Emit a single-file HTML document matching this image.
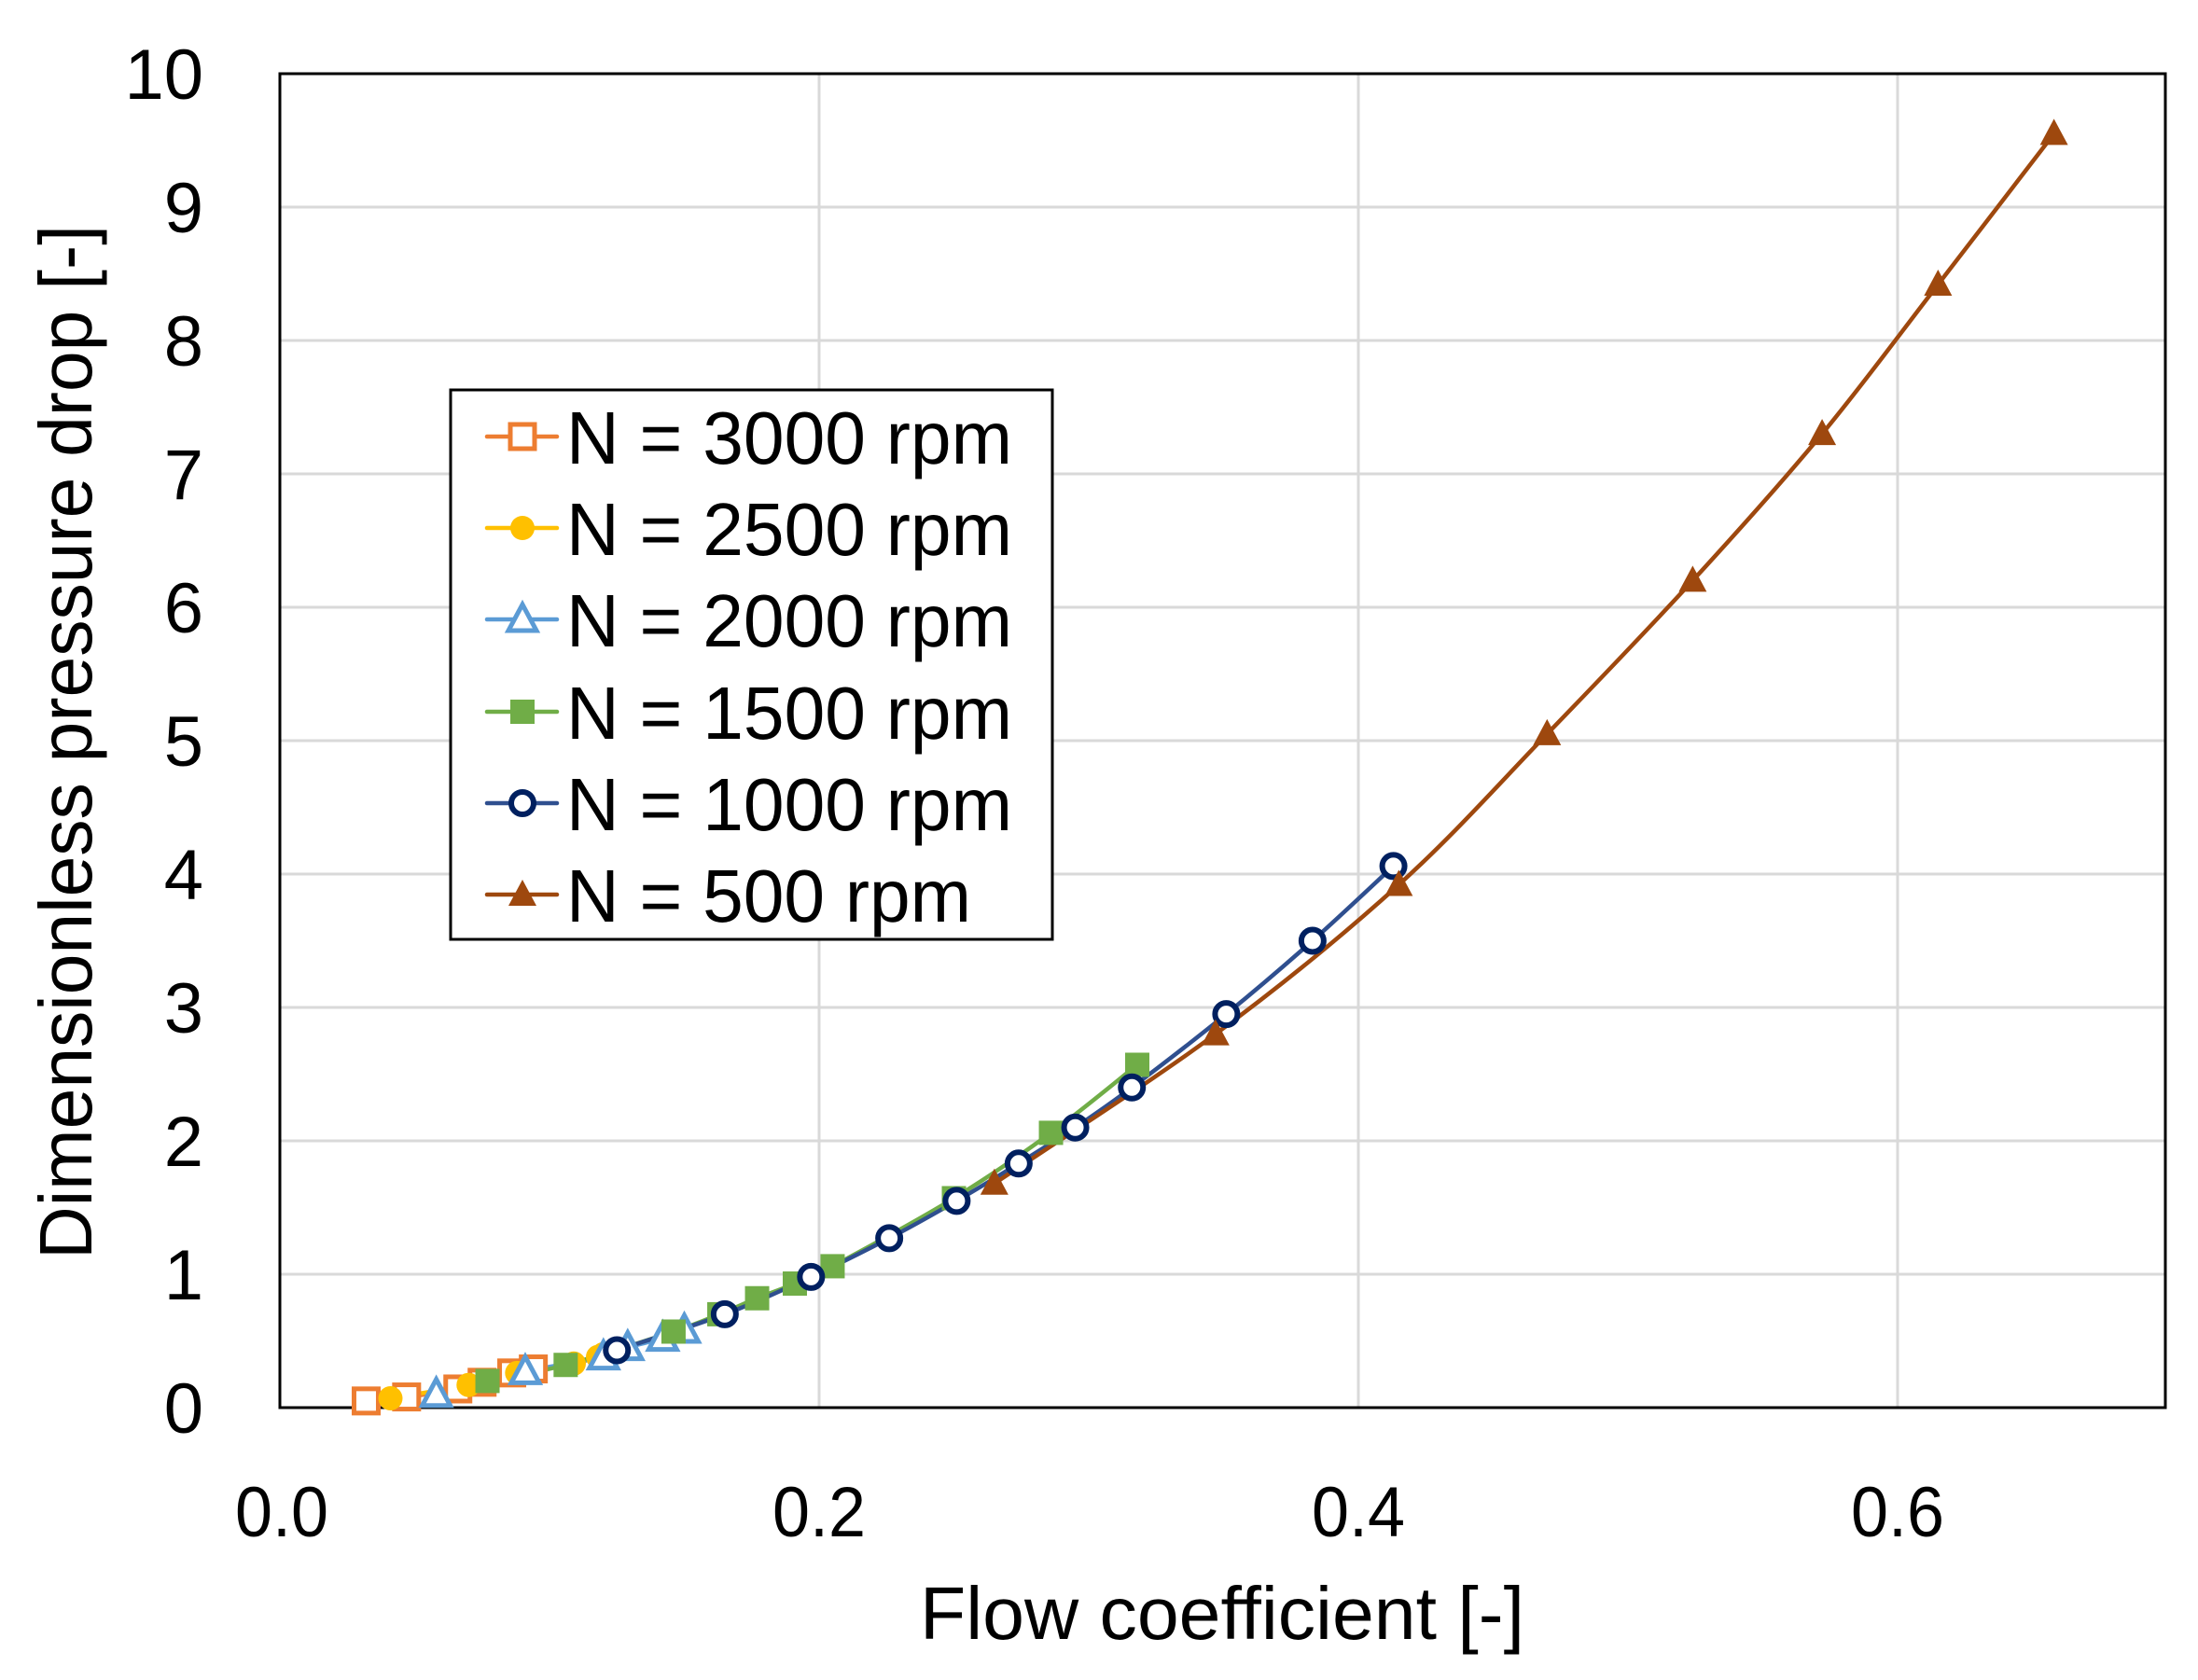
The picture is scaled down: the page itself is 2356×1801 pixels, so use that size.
<!DOCTYPE html>
<html><head><meta charset="utf-8"><style>
html,body{margin:0;padding:0;background:#fff;}
svg{display:block;}
text{font-family:"Liberation Sans",sans-serif;fill:#000;}
</style></head><body>
<svg id="c" width="2356" height="1801" viewBox="0 0 2356 1801" xmlns="http://www.w3.org/2000/svg">
<rect width="2356" height="1801" fill="#fff"/>
<g stroke="#d9d9d9" stroke-width="3">
<line x1="300" y1="222" x2="2321" y2="222"/><line x1="300" y1="365" x2="2321" y2="365"/>
<line x1="300" y1="508" x2="2321" y2="508"/><line x1="300" y1="651" x2="2321" y2="651"/>
<line x1="300" y1="794" x2="2321" y2="794"/><line x1="300" y1="937" x2="2321" y2="937"/>
<line x1="300" y1="1080" x2="2321" y2="1080"/><line x1="300" y1="1223" x2="2321" y2="1223"/>
<line x1="300" y1="1366" x2="2321" y2="1366"/>
<line x1="878" y1="79" x2="878" y2="1509"/><line x1="1456" y1="79" x2="1456" y2="1509"/><line x1="2034" y1="79" x2="2034" y2="1509"/>
</g>
<rect x="300" y="79" width="2021" height="1430" fill="none" stroke="#000" stroke-width="3"/>
<g id="data"></g>
<g font-size="76" text-anchor="end">
<text x="218" y="106">10</text><text x="218" y="249">9</text><text x="218" y="392">8</text>
<text x="218" y="535">7</text><text x="218" y="678">6</text><text x="218" y="821">5</text>
<text x="218" y="964">4</text><text x="218" y="1107">3</text><text x="218" y="1250">2</text>
<text x="218" y="1393">1</text><text x="218" y="1536">0</text>
</g>
<g font-size="76" text-anchor="middle">
<text x="302" y="1647" textLength="100" lengthAdjust="spacingAndGlyphs">0.0</text>
<text x="878" y="1647" textLength="100" lengthAdjust="spacingAndGlyphs">0.2</text>
<text x="1456" y="1647" textLength="100" lengthAdjust="spacingAndGlyphs">0.4</text>
<text x="2034" y="1647" textLength="100" lengthAdjust="spacingAndGlyphs">0.6</text>
</g>
<text x="986" y="1757" font-size="80" textLength="648" lengthAdjust="spacingAndGlyphs">Flow coefficient [-]</text>
<text transform="translate(98,1350) rotate(-90)" font-size="80" textLength="1109" lengthAdjust="spacingAndGlyphs">Dimensionless pressure drop [-]</text>
<rect x="483" y="418" width="645" height="589" fill="#fff" stroke="#000" stroke-width="3"/>
<g id="leg"></g>
<g font-size="80">
<text x="607" y="497" textLength="478" lengthAdjust="spacingAndGlyphs">N = 3000 rpm</text>
<text x="607" y="595" textLength="478" lengthAdjust="spacingAndGlyphs">N = 2500 rpm</text>
<text x="607" y="693" textLength="478" lengthAdjust="spacingAndGlyphs">N = 2000 rpm</text>
<text x="607" y="792" textLength="478" lengthAdjust="spacingAndGlyphs">N = 1500 rpm</text>
<text x="607" y="890" textLength="478" lengthAdjust="spacingAndGlyphs">N = 1000 rpm</text>
<text x="607" y="988" textLength="434" lengthAdjust="spacingAndGlyphs">N = 500 rpm</text>
</g>
</svg>
<script>
var NS="http://www.w3.org/2000/svg";
function X(v){return 300+v*2890;} function Y(v){return 1509-v*143;}
var S=[
{c:"#ED7D31",m:"sq",f:false,d:[[0.032,0.05],[0.047,0.08],[0.066,0.14],[0.075,0.19],[0.086,0.26],[0.094,0.29]]},
{c:"#FFC000",m:"ci",f:true,d:[[0.041,0.07],[0.07,0.17],[0.088,0.26],[0.109,0.33],[0.118,0.38],[0.12,0.4]]},
{c:"#5B9BD5",m:"tr",f:false,d:[[0.058,0.1],[0.091,0.27],[0.12,0.38],[0.129,0.45],[0.142,0.52],[0.15,0.58]]},
{c:"#70AD47",m:"sq",f:true,d:[[0.077,0.2],[0.106,0.32],[0.146,0.57],[0.163,0.7],[0.177,0.82],[0.191,0.93],[0.205,1.06],[0.25,1.57],[0.286,2.06],[0.318,2.57]]},
{c:"#002060",lc:"#2F4F8F",m:"ci",f:false,d:[[0.125,0.43],[0.165,0.7],[0.197,0.98],[0.226,1.27],[0.251,1.55],[0.274,1.83],[0.295,2.1],[0.316,2.4],[0.351,2.95],[0.383,3.5],[0.413,4.06]]},
{c:"#9E480E",m:"tr",f:true,d:[[0.265,1.68],[0.347,2.8],[0.415,3.92],[0.47,5.05],[0.524,6.2],[0.572,7.3],[0.615,8.42],[0.658,9.55]]}
];
function el(n,a,p){var e=document.createElementNS(NS,n);for(var k in a)e.setAttribute(k,a[k]);p.appendChild(e);return e;}
function marker(g,s,x,y){
 var fill=s.f?s.c:"#fff";
 if(s.m=="sq")el("rect",{x:x-13,y:y-13,width:26,height:26,fill:fill,stroke:s.c,"stroke-width":s.f?0:5},g);
 else if(s.m=="ci")el("circle",{cx:x,cy:y,r:s.f?13:12,fill:fill,stroke:s.c,"stroke-width":s.f?0:6},g);
 else el("polygon",{points:(x)+","+(y-16)+" "+(x-15)+","+(y+12)+" "+(x+15)+","+(y+12),fill:fill,stroke:s.c,"stroke-width":s.f?0:5,"stroke-linejoin":"miter"},g);
}
var g=document.getElementById("data"),L=document.getElementById("leg");
S.forEach(function(s){
 var p=s.d.map(function(q){return [X(q[0]),Y(q[1])];});
 var d="M"+p[0][0]+","+p[0][1];
 for(var i=0;i<p.length-1;i++){
  var p0=p[i-1]||p[i],p1=p[i],p2=p[i+1],p3=p[i+2]||p2;
  d+=" C"+(p1[0]+(p2[0]-p0[0])/6)+","+(p1[1]+(p2[1]-p0[1])/6)+" "+(p2[0]-(p3[0]-p1[0])/6)+","+(p2[1]-(p3[1]-p1[1])/6)+" "+p2[0]+","+p2[1];
 }
 el("path",{d:d,fill:"none",stroke:s.lc||s.c,"stroke-width":4.5},g);
});
S.forEach(function(s){s.d.forEach(function(q){marker(g,s,X(q[0]),Y(q[1]));});});
var ly=[468,566,664,763,861,959];
S.forEach(function(s,i){
 el("line",{x1:522,y1:ly[i],x2:597,y2:ly[i],stroke:s.lc||s.c,"stroke-width":4.5,"stroke-linecap":"round"},L);
 marker(L,s,560,ly[i]);
});
</script>
</body></html>
